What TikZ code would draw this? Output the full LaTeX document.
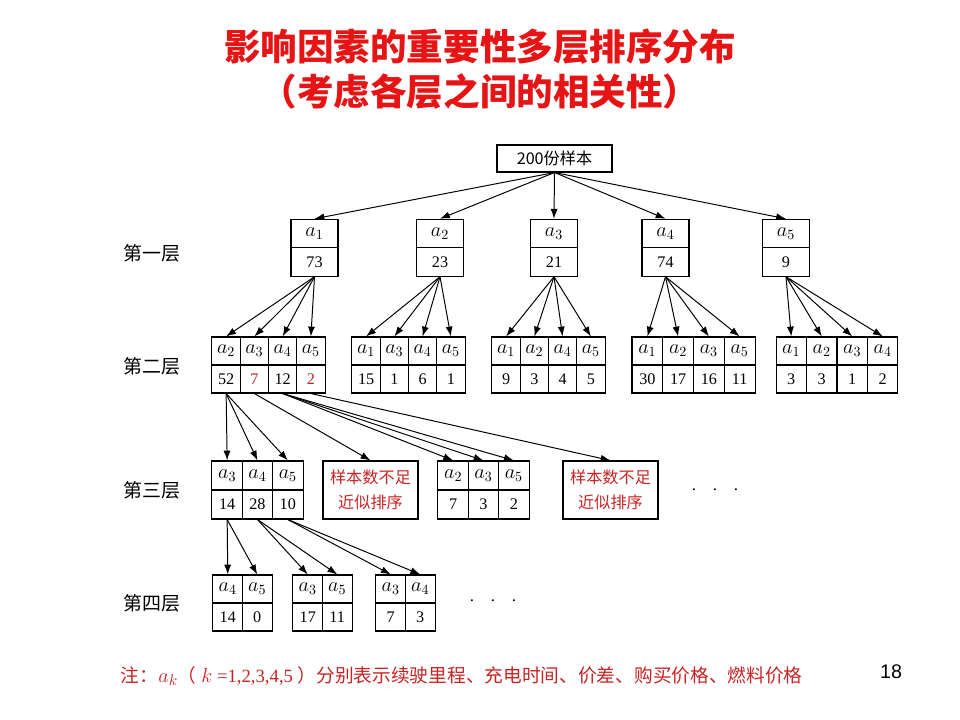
\documentclass[tikz,border=0pt]{standalone}
\usepackage{fontspec}
\setmainfont{Liberation Serif}
\newfontfamily\cjk{Noto Sans CJK SC}
\newfontfamily\arialfont{Liberation Sans}
\usetikzlibrary{arrows.meta}
\definecolor{titlered}{RGB}{230,20,20}
\definecolor{notered}{RGB}{200,35,35}
\definecolor{numred}{RGB}{185,40,40}
\tikzset{
  cell/.style={draw, line width=0.75pt, inner sep=0pt, minimum width=0.71cm, minimum height=0.7cm, font=\fontsize{11.5}{13}\selectfont},
  acell/.style={cell, font=\fontsize{14}{16}\selectfont},
  bigcell/.style={cell, minimum width=1.175cm, minimum height=0.71cm},
  redbox/.style={draw, line width=0.75pt, minimum width=2.375cm, minimum height=1.45cm, align=center, text=notered, font=\cjk\fontsize{11.5}{18}\selectfont},
  layer/.style={font=\cjk\fontsize{13.5}{15}\selectfont},
  arr/.style={-{Latex[length=7pt,width=5pt]}, line width=0.7pt}
}

\begin{document}
\begin{tikzpicture}[x=0.025cm, y=-0.025cm]
\useasboundingbox (0,0) rectangle (960,720);
%\draw[help lines, step=40] (0,0) grid (960,720);
\node[font=\cjk\bfseries\fontsize{26}{30}\selectfont, text=titlered] (title) at (480,47) {影响因素的重要性多层排序分布};
\node[font=\cjk\bfseries\fontsize{26}{30}\selectfont, text=titlered] (subtitle) at (480,92) {（考虑各层之间的相关性）};
\node[draw, line width=0.75pt, minimum width=2.875cm, minimum height=0.675cm, font=\cjk\fontsize{11.5}{13}\selectfont] (root) at (554.5,158.5) {200份样本};
\foreach \y/\t [count=\i] in {253/第一层, 366/第二层, 490/第三层, 603/第四层}
  \node[layer] (layer\i) at (152,\y) {\t};
% first layer
\foreach \x/\n [count=\i] in {314.5/73, 440/23, 554/21, 665.5/74, 786/9} {
  \node[bigcell, font=\fontsize{14}{16}\selectfont] (A\i) at (\x,233.5) {$a_{\i}$};
  \node[bigcell] (An\i) at (\x,262) {\n};
  \draw[arr] (root.south) -- (A\i.north);
}
% second layer
\foreach \s/\n [count=\k] in {2/52, 3/{\textcolor{numred}{7}}, 4/12, 5/{\textcolor{numred}{2}}} {
  \node[acell] (B1a\k) at ({212+(\k-0.5)*28.25},351) {$a_{\s}$};
  \node[cell] (B1n\k) at ({212+(\k-0.5)*28.25},379) {\n};
  \draw[arr] (An1.south) -- (B1a\k.north);
}
\foreach \s/\n [count=\k] in {1/15, 3/1, 4/6, 5/1} {
  \node[acell] (B2a\k) at ({352+(\k-0.5)*28.25},351) {$a_{\s}$};
  \node[cell] (B2n\k) at ({352+(\k-0.5)*28.25},379) {\n};
  \draw[arr] (An2.south) -- (B2a\k.north);
}
\foreach \s/\n [count=\k] in {1/9, 2/3, 4/4, 5/5} {
  \node[acell] (B3a\k) at ({492+(\k-0.5)*28.25},351) {$a_{\s}$};
  \node[cell] (B3n\k) at ({492+(\k-0.5)*28.25},379) {\n};
  \draw[arr] (An3.south) -- (B3a\k.north);
}
\foreach \s/\n [count=\k] in {1/30, 2/17, 3/16, 5/11} {
  \node[acell, minimum width=0.77cm] (B4a\k) at ({632+(\k-0.5)*30.75},351) {$a_{\s}$};
  \node[cell, minimum width=0.77cm] (B4n\k) at ({632+(\k-0.5)*30.75},379) {\n};
  \draw[arr] (An4.south) -- (B4a\k.north);
}
\foreach \s/\n [count=\k] in {1/3, 2/3, 3/1, 4/2} {
  \node[acell, minimum width=0.76cm] (B5a\k) at ({776+(\k-0.5)*30.5},351) {$a_{\s}$};
  \node[cell, minimum width=0.76cm] (B5n\k) at ({776+(\k-0.5)*30.5},379) {\n};
  \draw[arr] (An5.south) -- (B5a\k.north);
}
% third layer
\foreach \s/\n [count=\k] in {3/14, 4/28, 5/10} {
  \node[acell, minimum width=0.76cm, minimum height=0.725cm] (C1a\k) at ({212+(\k-0.5)*30.33},475.5) {$a_{\s}$};
  \node[cell, minimum width=0.76cm, minimum height=0.725cm] (C1n\k) at ({212+(\k-0.5)*30.33},504.5) {\n};
  \draw[arr] (B1n1.south) -- (C1a\k.north);
}
\node[redbox] (few1) at (370.5,490) {样本数不足\\近似排序};
\draw[arr] (B1n2.south) -- (few1.north);
\foreach \s/\n [count=\k] in {2/7, 3/3, 5/2} {
  \node[acell, minimum width=0.76cm, minimum height=0.725cm] (C2a\k) at ({438+(\k-0.5)*30.33},475.5) {$a_{\s}$};
  \node[cell, minimum width=0.76cm, minimum height=0.725cm] (C2n\k) at ({438+(\k-0.5)*30.33},504.5) {\n};
  \draw[arr] (B1n3.south) -- (C2a\k.north);
}
\node[redbox] (few2) at (610.5,490) {样本数不足\\近似排序};
\draw[arr] (B1n4.south) -- (few2.north);
\node[font=\fontsize{12}{13}\selectfont] (more3) at (715,490) {.\quad.\quad.};
% fourth layer
\foreach \x/\p/\s/\n [count=\k] in {213/1/4/14, 213/1/5/0, 293/2/3/17, 293/2/5/11, 376/3/3/7, 376/3/4/3} {
  \pgfmathsetmacro{\cx}{\x+(1-mod(\k,2))*29.5+14.75}
  \node[acell, minimum width=0.74cm] (Da\k) at (\cx,589) {$a_{\s}$};
  \node[cell, minimum width=0.74cm] (Dn\k) at (\cx,617) {\n};
  \draw[arr] (C1n\p.south) -- (Da\k.north);
}
\node[font=\fontsize{12}{13}\selectfont] (more4) at (493,601) {.\quad.\quad.};
% note
\node[anchor=west, text=notered, font=\fontsize{13.3}{15}\selectfont] (note) at (116,676) {{\cjk 注：}{\fontsize{15}{17}\selectfont$a_k$}{\cjk （} {\fontsize{15}{17}\selectfont$k$} =1,2,3,4,5 {\cjk ）分别表示续驶里程、充电时间、价差、购买价格、燃料价格}};
\node[font=\arialfont\fontsize{14}{16}\selectfont] (page) at (891,672) {18};
\end{tikzpicture}
\end{document}
